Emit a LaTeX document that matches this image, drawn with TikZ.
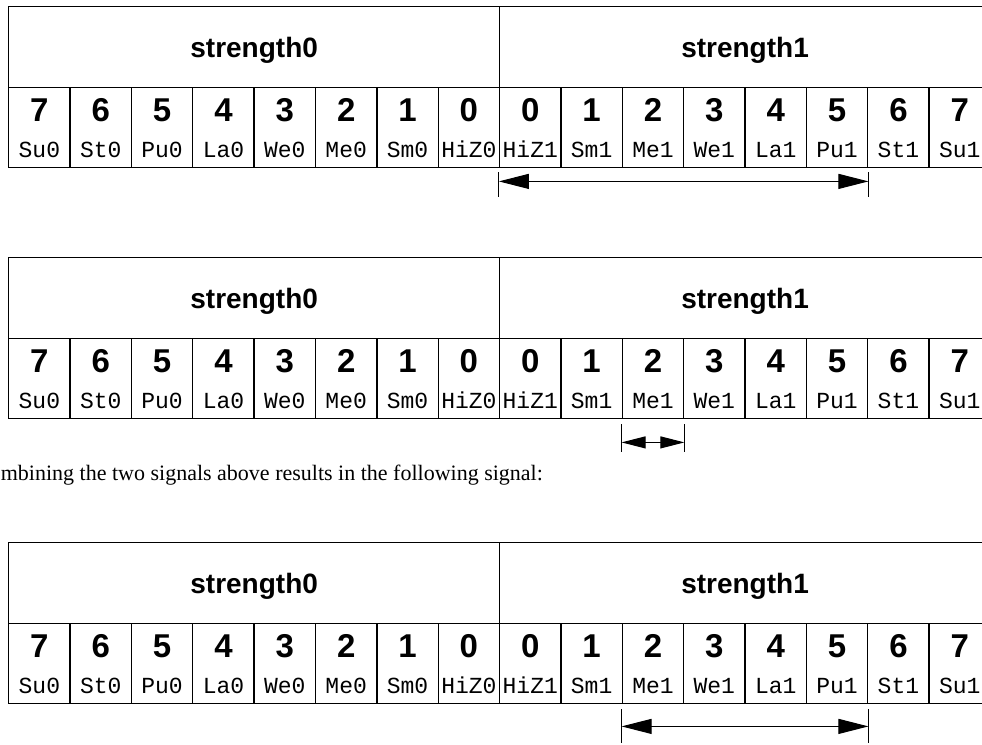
\documentclass[tikz,border=0pt]{standalone}
\usepackage{fontspec}
\setmainfont{Liberation Serif}
\setsansfont{Liberation Sans}
\setmonofont{Liberation Mono}
\usetikzlibrary{arrows.meta}

\tikzset{
  headbox/.style={draw, line width=1.4pt, anchor=north west, inner sep=0pt,
    minimum width=490.9pt, minimum height=81pt},
  cellbox/.style={draw, line width=1.4pt, anchor=north west, inner sep=0pt,
    minimum width=61.36pt, minimum height=80pt},
  headtext/.style={anchor=base, inner sep=0pt, font=\sffamily\bfseries\fontsize{28}{30}\selectfont},
  digit/.style={anchor=base, inner sep=0pt, font=\sffamily\bfseries\fontsize{33}{35}\selectfont},
  sig/.style={anchor=base, inner sep=0pt, font=\ttfamily\fontsize{23}{25}\selectfont},
  tick/.style={line width=1pt},
  rangearrow/.style={line width=1pt, {Triangle[length=30pt,width=15pt]}-{Triangle[length=30pt,width=15pt]}},
  shortarrow/.style={line width=1pt, {Triangle[length=24pt,width=12pt]}-{Triangle[length=24pt,width=12pt]}}
}

\begin{document}
\begin{tikzpicture}[x=1pt, y=-1pt]
  \useasboundingbox (0,0) rectangle (982,744);

  % three strength tables
  \foreach \k/\T in {1/6, 2/257, 3/542} {
    \node[headbox] (h\k a) at (8,\T) {};
    \node[headbox] (h\k b) at (498.9,\T) {};
    \node[headtext] (s\k a) at ([yshift=-51pt]h\k a.north) {strength0};
    \node[headtext] (s\k b) at ([yshift=-51pt]h\k b.north) {strength1};
    \foreach \d/\s [count=\i from 0] in {7/Su0, 6/St0, 5/Pu0, 4/La0, 3/We0, 2/Me0, 1/Sm0, 0/HiZ0,
                                         0/HiZ1, 1/Sm1, 2/Me1, 3/We1, 4/La1, 5/Pu1, 6/St1, 7/Su1} {
      \node[cellbox] (c\k-\i) at (8+\i*61.36, \T+81) {};
      \node[digit] (d\k-\i) at ([yshift=-34pt]c\k-\i.north) {\d};
      \node[sig] (n\k-\i) at ([yshift=-70pt]c\k-\i.north) {\s};
    }
  }

  % range of the first signal
  \draw[tick] ([yshift=-4pt]c1-8.south west) -- ([yshift=-29pt]c1-8.south west);
  \draw[tick] ([yshift=-4pt]c1-13.south east) -- ([yshift=-29pt]c1-13.south east);
  \draw[rangearrow] ([yshift=-13pt]c1-8.south west) -- ([yshift=-13pt]c1-13.south east);

  % range of the second signal
  \draw[tick] ([yshift=-5pt]c2-10.south west) -- ([yshift=-33pt]c2-10.south west);
  \draw[tick] ([yshift=-5pt]c2-10.south east) -- ([yshift=-33pt]c2-10.south east);
  \draw[shortarrow] ([yshift=-23pt]c2-10.south west) -- ([yshift=-23pt]c2-10.south east);

  \node[anchor=base west, inner sep=0pt, font=\fontsize{22}{26}\selectfont] (note) at (-25,480)
    {Combining the two signals above results in the following signal:};

  % resulting range
  \draw[tick] ([yshift=-5pt]c3-10.south west) -- ([yshift=-39pt]c3-10.south west);
  \draw[tick] ([yshift=-5pt]c3-13.south east) -- ([yshift=-39pt]c3-13.south east);
  \draw[rangearrow] ([yshift=-22pt]c3-10.south west) -- ([yshift=-22pt]c3-13.south east);
\end{tikzpicture}
\end{document}
